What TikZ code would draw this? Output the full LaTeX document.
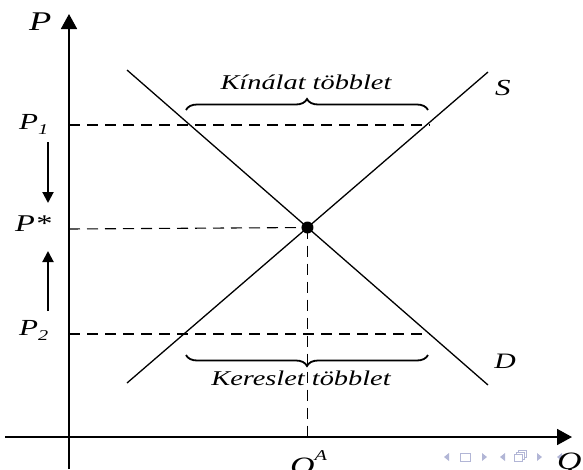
\documentclass[tikz,border=0pt]{standalone}
\usepackage{fontspec}
\setmainfont{Liberation Serif}[FakeStretch=1.35]
\usetikzlibrary{arrows.meta,decorations.pathreplacing}

\definecolor{navgray}{RGB}{178,182,214}

\begin{document}
\begin{tikzpicture}[
  x=1pt, y=-1pt,
  font=\itshape,
  axis/.style={line width=1.8pt, -{Triangle[length=15pt, width=16pt]}},
  curve/.style={line width=1.3pt},
  guide/.style={line width=1.1pt, dash pattern=on 11pt off 7pt},
  shiftarrow/.style={line width=2pt, -{Triangle[length=11pt, width=11pt]}},
  brc/.style={decorate, decoration={brace, amplitude=11pt}, line width=1.8pt},
  tag/.style={inner sep=0pt, font=\fontsize{#1}{#1}\selectfont\itshape},
  tag/.default=24,
  nav/.style={fill=navgray, draw=none},
  navbox/.style={draw=navgray, line width=0.9pt, fill=white},
]
\useasboundingbox (0,0) rectangle (583,469);

% axes
\coordinate (ybot) at (69,469);
\coordinate (ytop) at (69,14);
\coordinate (xleft) at (5,437);
\coordinate (xright) at (572,437);
\draw[axis] (ybot) -- (ytop);
\draw[axis] (xleft) -- (xright);

% supply and demand
\coordinate (s0) at (127,383);
\coordinate (s1) at (488,72);
\coordinate (d0) at (127,70);
\coordinate (d1) at (488,385);
\draw[curve] (s0) -- (s1);
\draw[curve] (d0) -- (d1);
\coordinate (eq) at (intersection of s0--s1 and d0--d1);

% price levels
\coordinate (p1) at (69,125);
\coordinate (p1e) at (430,125);
\coordinate (ps) at (69,229);
\coordinate (p2) at (69,334);
\coordinate (p2e) at (430,334);
\coordinate (qa) at (eq |- xleft);
\draw[guide] (p1) -- (p1e);
\draw[guide] (p2) -- (p2e);
\draw[guide] (ps) -- (eq);
\draw[guide] (eq) -- (qa);
\fill (eq) circle (6pt);

% braces
\coordinate (b1l) at (186,110);
\coordinate (b1r) at (428,110);
\coordinate (b2l) at (186,355);
\coordinate (b2r) at (428,355);
\draw[brc] (b1l) -- (b1r);
\draw[brc] (b2r) -- (b2l);
\node[tag=21, anchor=base] (kin) at (306,89) {Kínálat többlet};
\node[tag=21, anchor=base] (ker) at (301,385) {Kereslet többlet};

% adjustment arrows
\coordinate (dn0) at (48,142);
\coordinate (dn1) at (48,203);
\coordinate (up0) at (48,311);
\coordinate (up1) at (48,251);
\draw[shiftarrow] (dn0) -- (dn1);
\draw[shiftarrow] (up0) -- (up1);

% navigation symbols
\foreach \x in {447,503,560}
  \fill[nav] ({\x-3},457) -- ({\x+2},453) -- ({\x+2},461) -- cycle;
\foreach \x in {484,539}
  \fill[nav] ({\x+3},457) -- ({\x-2},453) -- ({\x-2},461) -- cycle;
\draw[navbox] (460,453) rectangle (470,461);
\foreach \d in {4,2,0}
  \draw[navbox] ({514+\d},{454-\d}) rectangle ({522+\d},{461-\d});

% labels
\node[tag=27, anchor=base west] (lP) at (29,30) {P};
\node[tag=25, anchor=base west] (lQ) at (557,469) {Q};
\node[tag=25, anchor=base west] (lQA) at (290,474) {Q\raisebox{14pt}{\fontsize{15}{15}\selectfont A}};
\node[tag=23, anchor=base west] (lP1) at (19,129) {P\raisebox{-5pt}{\fontsize{15}{15}\selectfont 1}};
\node[tag, anchor=base west] (lPs) at (15,231) {P*};
\node[tag=23, anchor=base west] (lP2) at (19,335) {P\raisebox{-5pt}{\fontsize{15}{15}\selectfont 2}};
\node[tag=23] (lS) at (503,88) {S};
\node[tag=22] (lD) at (505,361) {D};
\end{tikzpicture}
\end{document}
